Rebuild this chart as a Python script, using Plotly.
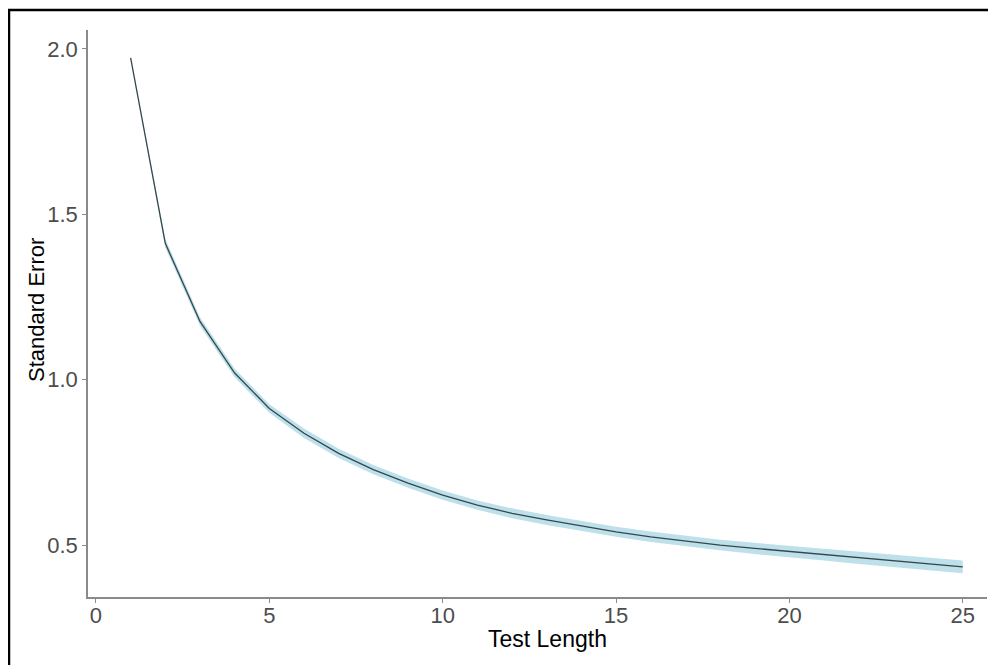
import plotly.graph_objects as go

test_length = list(range(1, 26))
standard_error = [1.973, 1.412, 1.176, 1.020, 0.913, 0.838, 0.777, 0.728, 0.687,
                  0.651, 0.621, 0.596, 0.576, 0.557, 0.540, 0.525, 0.512, 0.500,
                  0.490, 0.481, 0.471, 0.461, 0.452, 0.443, 0.434]
half_width = [0.001, 0.013, 0.013, 0.013, 0.013, 0.014, 0.014, 0.014, 0.014,
              0.014, 0.014, 0.015, 0.015, 0.015, 0.015, 0.016, 0.016, 0.016,
              0.017, 0.017, 0.018, 0.018, 0.018, 0.019, 0.019]
upper = [round(s + h, 4) for s, h in zip(standard_error, half_width)]
lower = [round(s - h, 4) for s, h in zip(standard_error, half_width)]

x_ticks = [0, 5, 10, 15, 20, 25]
y_ticks = [0.5, 1.0, 1.5, 2.0]
y_tick_text = ["0.5", "1.0", "1.5", "2.0"]

FONT = "Liberation Sans, Arial"

fig = go.Figure()
fig.add_trace(go.Scatter(x=test_length, y=upper, mode="lines",
                         line=dict(width=0, color="rgba(0,0,0,0)"),
                         showlegend=False, hoverinfo="skip"))
fig.add_trace(go.Scatter(x=test_length, y=lower, mode="lines",
                         line=dict(width=0, color="rgba(0,0,0,0)"),
                         fill="tonexty", fillcolor="rgba(173,216,230,0.8)",
                         showlegend=False, hoverinfo="skip"))
fig.add_trace(go.Scatter(x=test_length, y=standard_error, mode="lines",
                         line=dict(width=1.3, color="#34474c"),
                         showlegend=False))

axis_common = dict(showgrid=False, zeroline=False, showline=True,
                   linecolor="#8a8a8a", linewidth=1.5, ticks="outside",
                   ticklen=4, tickcolor="#8a8a8a", tickwidth=1,
                   tickfont=dict(family=FONT, size=22, color="#4d4d4d"),
                   mirror=False, automargin=False)

# page has an 8px body margin, so the figure is sized/offset to compensate
fig.update_layout(
    width=988, height=657,
    margin=dict(l=80, r=9, t=22, b=68),
    paper_bgcolor="white", plot_bgcolor="white",
    xaxis=dict(range=[-0.23, 25.7], tickvals=x_ticks, ticklabelstandoff=-6,
               **axis_common),
    yaxis=dict(range=[0.343, 2.057], tickvals=y_ticks, ticktext=y_tick_text,
               **axis_common),
    annotations=[
        dict(text="Test Length", xref="paper", yref="paper",
             x=(547 - 88) / 899, y=(597 - 639) / 567, xanchor="center", yanchor="middle",
             showarrow=False, font=dict(family=FONT, size=23, color="black")),
        dict(text="Standard Error", xref="paper", yref="paper",
             x=(36 - 88) / 899, y=(597 - 310) / 567, xanchor="center", yanchor="middle",
             textangle=-90, showarrow=False, font=dict(family=FONT, size=22, color="black")),
    ],
    shapes=[dict(type="rect", xref="paper", yref="paper",
                 x0=(9 - 88) / 899, x1=1.05, y0=-0.2, y1=(597 - 10) / 567,
                 line=dict(color="black", width=2.5), fillcolor="rgba(0,0,0,0)",
                 layer="above")],
)

fig.write_html("out.html")
